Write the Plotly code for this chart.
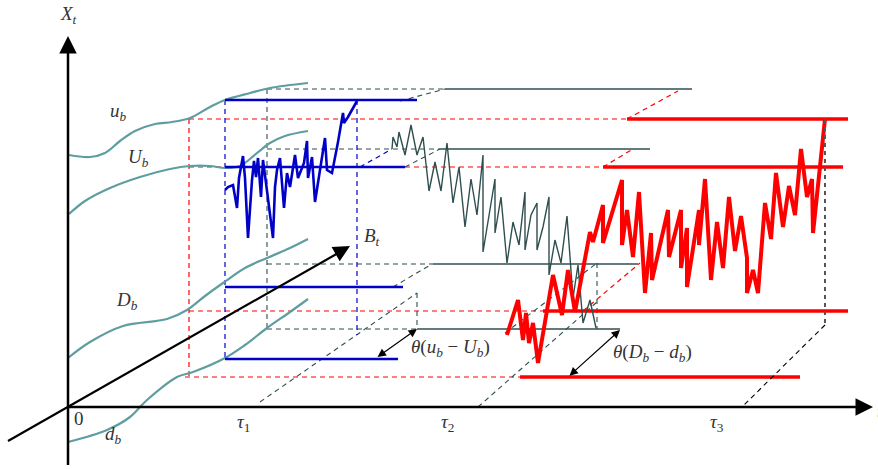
import plotly.graph_objects as go

W, H = 878, 469

# ---- schematic data (diagram space: pixels, y downward) ----
# boundary curves
ub_x = [69, 90, 105, 120, 135, 155, 172, 190, 210, 225, 250, 270, 308]
ub_y = [155, 157, 153, 141, 131, 124, 122, 118, 107, 100, 93, 88, 83]
Ub_x = [69, 85, 110, 140, 170, 190, 210, 225, 240, 257, 270, 285, 308]
Ub_y = [214, 201, 188, 177, 169, 166, 166, 168, 166, 153, 143, 136, 131]
Db_x = [68, 90, 123, 167, 187, 205, 223, 245, 267, 290, 308]
Db_y = [358, 342, 326, 319, 310, 296, 283, 268, 258, 248, 239]
db_x = [68, 107, 130, 147, 177, 193, 225, 245, 267, 290, 308]
db_y = [442, 430, 417, 400, 377, 372, 358, 345, 328, 312, 299]

# blue regime (tau1) barrier lines
blue_levels = [100, 167, 287, 359]
blue_x0 = 225
blue_x1 = [417, 405, 403, 398]

# back-plane grey lines
grey_levels = [89, 149, 264, 329]
grey_dash_x0 = 267
grey_split = [445, 440, 433, 417]
grey_end = [692, 650, 638, 620]

# red regime lines
red_levels = [119, 167, 311, 377]
red_dash_x0 = [189, 189, 189, 185]
red_split = [627, 603, 543, 520]
red_end = [848, 843, 848, 800]

# sample paths
blue_path_x = [225, 228, 233, 237, 239, 243, 245, 248, 252, 254, 256, 258, 261, 263, 266,
               273, 275, 277, 280, 284, 287, 290, 295, 298, 304, 307, 308, 312, 315, 320,
               325, 327, 332, 338, 343, 344, 348, 357]
blue_path_y = [190, 187, 185, 208, 178, 156, 178, 238, 180, 161, 177, 158, 197, 160, 183,
               238, 187, 170, 158, 208, 173, 187, 155, 178, 163, 141, 178, 157, 202, 170,
               138, 170, 173, 142, 113, 123, 117, 101]

grey_path_x = [392, 393, 397, 399, 405, 411, 417, 423, 429, 435, 441, 447, 453, 459, 465,
               471, 477, 483, 483, 495, 495, 501, 507, 513, 519, 525, 525, 531, 537, 537,
               543, 549, 549, 555, 561, 567, 573, 578, 583, 590, 596]
grey_path_y = [149, 137, 147, 132, 155, 125, 155, 137, 191, 162, 191, 143, 203, 167, 227,
               179, 215, 155, 252, 179, 233, 197, 263, 222, 245, 192, 250, 215, 203, 250,
               227, 197, 275, 240, 263, 216, 298, 265, 323, 300, 328]

red_path_x = [507, 518, 523, 526, 529, 533, 538, 553, 562, 568, 575, 583, 590, 593, 603,
              603, 622, 622, 627, 633, 639, 645, 651, 652, 668, 669, 681, 681, 687, 687,
              699, 699, 705, 711, 717, 723, 729, 735, 741, 747, 747, 753, 758, 765, 771,
              776, 783, 789, 795, 801, 807, 812, 813, 825]
red_path_y = [335, 300, 340, 313, 343, 323, 363, 275, 315, 270, 312, 270, 232, 242, 205,
              243, 180, 245, 210, 257, 192, 293, 233, 280, 210, 257, 210, 268, 228, 287,
              210, 245, 179, 280, 222, 268, 197, 251, 216, 258, 293, 270, 293, 203, 239,
              173, 227, 186, 215, 149, 197, 179, 233, 119]

# dashed connectors: (x0, y0, x1, y1)
blue_dash_segs = [(225, 100, 225, 359), (357, 100, 357, 335), (360, 167, 392, 149)]
grey_dash_segs = [(267, 89, 267, 329), (400, 101, 445, 89), (405, 167, 440, 149),
                  (393, 287, 432, 264), (260, 402, 417, 293), (417, 293, 417, 329),
                  (597, 263, 597, 329), (478, 407, 597, 302), (505, 333, 597, 263)]
red_dash_segs = [(627, 119, 678, 91), (603, 167, 633, 149), (583, 311, 640, 263)]
red_vert = (189, 119, 189, 377)

# annotations / labels
labels = [
    (68, 15, "<i>X</i><sub><i>t</i></sub>"),
    (118, 112, "<i>u</i><sub><i>b</i></sub>"),
    (138, 158, "<i>U</i><sub><i>b</i></sub>"),
    (127, 301, "<i>D</i><sub><i>b</i></sub>"),
    (113, 435, "<i>d</i><sub><i>b</i></sub>"),
    (372, 237, "<i>B</i><sub><i>t</i></sub>"),
    (79, 418, "0"),
    (243, 423, "<i>τ</i><sub>1</sub>"),
    (447, 423, "<i>τ</i><sub>2</sub>"),
    (717, 423, "<i>τ</i><sub>3</sub>"),
    (450, 348, "<i>θ</i>(<i>u</i><sub><i>b</i></sub> − <i>U</i><sub><i>b</i></sub>)"),
    (652, 353, "<i>θ</i>(<i>D</i><sub><i>b</i></sub> − <i>d</i><sub><i>b</i></sub>)"),
]

TEAL = "#5f9ea0"
BLUE = "#0000c8"
RED = "#ff0000"
SLATE = "#2f4f4f"

fig = go.Figure()


def add_line(xs, ys, color, width, dash="solid", shape="linear"):
    fig.add_trace(go.Scatter(x=xs, y=ys, mode="lines", hoverinfo="skip",
                             line=dict(color=color, width=width, dash=dash, shape=shape),
                             showlegend=False))


# red dashed horizontals
for lv, x0, sp in zip(red_levels, red_dash_x0, red_split):
    add_line([x0, sp], [lv, lv], RED, 1.2, "5px,4px")
for x0, y0, x1, y1 in red_dash_segs + [red_vert]:
    add_line([x0, x1], [y0, y1], RED, 1.2, "5px,4px")

# grey back-plane lines
for lv, sp, en in zip(grey_levels, grey_split, grey_end):
    add_line([grey_dash_x0, sp], [lv, lv], SLATE, 1.1, "5px,4px")
    add_line([sp, en], [lv, lv], SLATE, 1.4)
for x0, y0, x1, y1 in grey_dash_segs:
    add_line([x0, x1], [y0, y1], SLATE, 1.1, "5px,4px")

# blue dashed
for x0, y0, x1, y1 in blue_dash_segs:
    add_line([x0, x1], [y0, y1], BLUE, 1.2, "5px,4px")

# teal curves
for xs, ys in [(ub_x, ub_y), (Ub_x, Ub_y), (Db_x, Db_y), (db_x, db_y)]:
    add_line(xs, ys, TEAL, 2.2, shape="spline")

# blue solid barriers
for lv, x1 in zip(blue_levels, blue_x1):
    add_line([blue_x0, x1], [lv, lv], BLUE, 2.6)

# red solid barriers
for lv, sp, en in zip(red_levels, red_split, red_end):
    add_line([sp, en], [lv, lv], RED, 3.6)

# sample paths
add_line(grey_path_x, grey_path_y, SLATE, 1.4)
add_line(blue_path_x, blue_path_y, BLUE, 2.6)
add_line(red_path_x, red_path_y, RED, 4)

# tau3 connector
add_line([825, 825], [119, 325], "#555555", 2, "4px,4px")
add_line([825, 742], [325, 407], "#000000", 1.1, "5px,4px")

# axes (lines) + arrows
add_line([68, 68], [465, 45], "#000000", 2.5)
add_line([68, 862], [407, 407], "#000000", 2.5)
add_line([8, 340], [441, 252], "#000000", 2.2)

arrows = [
    dict(x=68, y=36, ax=68, ay=50, w=2.5, side="end", size=1.4),
    dict(x=873, y=407, ax=858, ay=407, w=2.5, side="end", size=1.4),
    dict(x=350, y=246, ax=335, ay=254.5, w=2.2, side="end", size=1.5),
    dict(x=417, y=329, ax=376, ay=358, w=1.2, side="end+start", size=1.4),
    dict(x=620, y=330, ax=568, ay=377, w=1.2, side="end+start", size=1.4),
]
for a in arrows:
    fig.add_annotation(x=a["x"], y=a["y"], ax=a["ax"], ay=a["ay"], xref="x", yref="y",
                       axref="x", ayref="y", text="", showarrow=True, arrowhead=2,
                       arrowside=a["side"], arrowwidth=a["w"], arrowsize=a["size"],
                       arrowcolor="#000000", standoff=0, startstandoff=0)

for x, y, t in labels:
    fig.add_annotation(x=x, y=y, text=t, showarrow=False, xref="x", yref="y",
                       font=dict(family="Liberation Serif", size=19, color="#333333"))
fig.add_annotation(x=875, y=411, text="<i>t</i>", showarrow=False, xanchor="left",
                   font=dict(family="Liberation Serif", size=19, color="#333333"))

fig.update_layout(
    width=W, height=H, margin=dict(l=0, r=0, t=0, b=0),
    paper_bgcolor="white", plot_bgcolor="white",
    xaxis=dict(range=[0, W], visible=False, fixedrange=True),
    yaxis=dict(range=[H, 0], visible=False, fixedrange=True),
)
fig.write_html("out.html", config={"displayModeBar": False},
               post_script="document.body.style.margin='0px';document.body.style.overflow='hidden';")
